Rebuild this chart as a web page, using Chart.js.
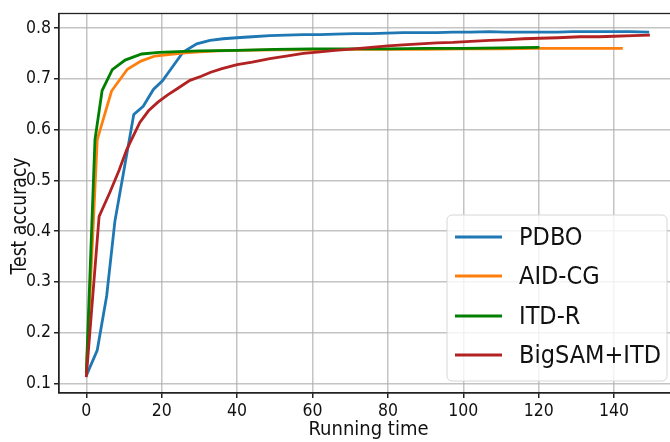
<!DOCTYPE html>
<html>
<head>
<meta charset="utf-8">
<script src="https://cdn.jsdelivr.net/npm/chart.js@4/dist/chart.umd.min.js"></script>
<style>
html,body{margin:0;padding:0;background:#fff;overflow:hidden;width:670px;height:442px;}
canvas{display:block;}
</style>
</head>
<body>
<canvas id="c" width="680" height="442"></canvas>
<script>
// ---- data ----
const seriesNames = ["PDBO", "AID-CG", "ITD-R", "BigSAM+ITD"];
const seriesColors = ["#1f77b4", "#ff7f0e", "#008000", "#b22222"];

const pdboTime = [0, 2.9, 5.4, 7.6, 10.1, 12.6, 15.1, 17.8, 20.2, 22.6, 25.7, 29.3, 32.8, 36.3, 39.9, 44, 48.7, 53, 57.6, 62, 66, 71, 75.5, 79.7, 84, 88.5, 93, 97.3, 102, 107, 111, 116, 120, 125, 129, 134, 139, 144, 149.3];
const pdboAcc  = [0.115, 0.165, 0.272, 0.42, 0.525, 0.63, 0.646, 0.679, 0.696, 0.721, 0.753, 0.769, 0.776, 0.779, 0.781, 0.783, 0.785, 0.786, 0.787, 0.787, 0.788, 0.789, 0.789, 0.790, 0.791, 0.791, 0.791, 0.792, 0.792, 0.793, 0.792, 0.792, 0.792, 0.792, 0.793, 0.793, 0.793, 0.793, 0.792];

const aidTime = [0, 2.9, 6.7, 10.9, 14.5, 18.2, 21.8, 26.2, 30, 35, 40, 50, 60, 70, 80, 90, 100, 110, 120, 130, 142.3];
const aidAcc  = [0.12, 0.58, 0.676, 0.719, 0.735, 0.745, 0.748, 0.751, 0.753, 0.755, 0.756, 0.757, 0.757, 0.758, 0.758, 0.758, 0.759, 0.759, 0.760, 0.760, 0.760];

const itdTime = [0, 2.3, 4.2, 6.9, 10.3, 14.7, 19.3, 26, 30, 40, 50, 60, 70, 80, 90, 100, 110, 120.2];
const itdAcc  = [0.12, 0.58, 0.677, 0.718, 0.737, 0.749, 0.752, 0.754, 0.755, 0.756, 0.758, 0.759, 0.759, 0.759, 0.760, 0.760, 0.761, 0.762];

const bigTime = [0, 3.4, 6.3, 8.7, 10.7, 12, 14.2, 16.5, 19, 21.5, 24, 27.5, 30.5, 33, 36, 40, 44, 48.7, 53, 57.6, 62, 66, 71, 75.5, 80, 84, 88.5, 93, 97.3, 102, 107, 111, 116, 120.3, 125, 131, 136, 140, 145, 149.5];
const bigAcc  = [0.112, 0.429, 0.477, 0.52, 0.56, 0.58, 0.614, 0.637, 0.654, 0.668, 0.68, 0.697, 0.705, 0.713, 0.72, 0.728, 0.733, 0.740, 0.745, 0.750, 0.753, 0.756, 0.759, 0.762, 0.765, 0.767, 0.769, 0.771, 0.772, 0.774, 0.776, 0.777, 0.779, 0.780, 0.781, 0.783, 0.783, 0.784, 0.785, 0.786];

const xTickValues = [0, 20, 40, 60, 80, 100, 120, 140];
const yTickValues = [0.1, 0.2, 0.3, 0.4, 0.5, 0.6, 0.7, 0.8];
const xTitle = "Running time";
const yTitle = "Test accuracy";

// ---- build chart ----
const times = [pdboTime, aidTime, itdTime, bigTime];
const accs = [pdboAcc, aidAcc, itdAcc, bigAcc];
const FONT = "'DejaVu Sans Condensed', 'DejaVu Sans', sans-serif";

const datasets = seriesNames.map((name, i) => ({
  label: name,
  data: times[i].map((t, k) => ({x: t, y: accs[i][k]})),
  borderColor: seriesColors[i],
  backgroundColor: seriesColors[i],
  borderWidth: 2.8,
  pointRadius: 0,
  tension: 0,
  fill: false,
  order: 4 - i
}));

const framePlugin = {
  id: 'frame',
  afterDatasetsDraw(chart) {
    const {ctx, chartArea: a} = chart;
    ctx.save();
    ctx.strokeStyle = '#222';
    ctx.lineWidth = 1.3;
    ctx.strokeRect(a.left, a.top, a.right - a.left, a.bottom - a.top);
    ctx.restore();
  }
};

// y-axis title drawn rotated, at the reference's position and proportions
const yTitlePlugin = {
  id: 'yTitle',
  afterDraw(chart) {
    const ctx = chart.ctx;
    ctx.save();
    ctx.translate(21, 216);
    ctx.rotate(-Math.PI / 2);
    ctx.scale(0.82, 1);
    ctx.font = "21px 'DejaVu Sans', sans-serif";
    ctx.fillStyle = '#111';
    ctx.textAlign = 'center';
    ctx.textBaseline = 'middle';
    ctx.fillText(yTitle, 0, 0);
    ctx.restore();
  }
};

const legendPlugin = {
  id: 'boxLegend',
  afterDraw(chart) {
    const ctx = chart.ctx;
    const x0 = 447, y0 = 215, w = 220, h = 166, r = 5;
    ctx.save();
    ctx.beginPath();
    ctx.moveTo(x0 + r, y0);
    ctx.arcTo(x0 + w, y0, x0 + w, y0 + h, r);
    ctx.arcTo(x0 + w, y0 + h, x0, y0 + h, r);
    ctx.arcTo(x0, y0 + h, x0, y0, r);
    ctx.arcTo(x0, y0, x0 + w, y0, r);
    ctx.closePath();
    ctx.fillStyle = 'rgba(255,255,255,0.8)';
    ctx.fill();
    ctx.strokeStyle = '#d6d6d6';
    ctx.lineWidth = 1;
    ctx.stroke();
    const rows = [237, 276, 316, 355];
    ctx.font = "25px " + FONT;
    ctx.textBaseline = 'middle';
    ctx.textAlign = 'left';
    seriesNames.forEach((name, i) => {
      ctx.strokeStyle = seriesColors[i];
      ctx.lineWidth = 2.8;
      ctx.beginPath();
      ctx.moveTo(455, rows[i]);
      ctx.lineTo(502, rows[i]);
      ctx.stroke();
      ctx.fillStyle = '#111';
      ctx.fillText(name, 519, rows[i] + 1);
    });
    ctx.restore();
  }
};

new Chart(document.getElementById('c'), {
  type: 'line',
  data: {datasets},
  plugins: [framePlugin, yTitlePlugin, legendPlugin],
  options: {
    responsive: false,
    animation: false,
    events: [],
    layout: {padding: {left: 0, top: 4, right: 2, bottom: 0}},
    plugins: {legend: {display: false}, tooltip: {enabled: false}},
    scales: {
      x: {
        type: 'linear',
        min: -7.24,
        max: 156.95,
        afterBuildTicks(s) { s.ticks = xTickValues.map(v => ({value: v})); },
        afterFit(s) { s.height = 49; },
        grid: {color: 'rgba(176,176,176,0.75)', lineWidth: 1.5, tickLength: 5, tickColor: '#222', drawTicks: true},
        border: {display: true, color: '#222', width: 1.3},
        ticks: {font: {family: FONT, size: 17.5}, color: '#111', padding: 3, maxRotation: 0, autoSkip: false},
        title: {display: true, text: xTitle, font: {family: FONT, size: 20}, color: '#111', padding: {top: 0, bottom: 0}}
      },
      y: {
        type: 'linear',
        min: 0.0808,
        max: 0.8288,
        afterBuildTicks(s) { s.ticks = yTickValues.map(v => ({value: v})); },
        afterFit(s) { s.width = 59; },
        grid: {color: 'rgba(176,176,176,0.75)', lineWidth: 1.5, tickLength: 5, tickColor: '#222', drawTicks: true},
        border: {display: true, color: '#222', width: 1.3},
        ticks: {font: {family: FONT, size: 17.5}, color: '#111', padding: 3, autoSkip: false,
                callback: v => v.toFixed(1)},
        title: {display: false}
      }
    }
  }
});
</script>
</body>
</html>
